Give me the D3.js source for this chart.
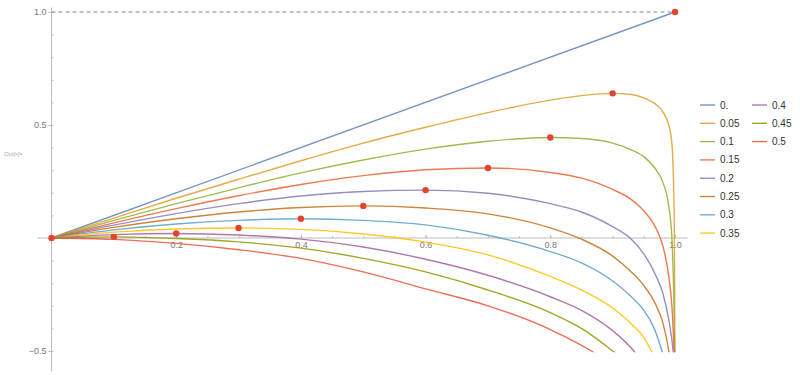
<!DOCTYPE html>
<html>
<head>
<meta charset="utf-8">
<script src="https://cdn.jsdelivr.net/npm/d3@7"></script>
<style>
  body { margin: 0; background: #fff; }
  svg { display: block; font-family: "Liberation Sans", Arial, sans-serif; }
</style>
</head>
<body>
<script>
// parameter labels (legend order)
var labels = ['0.', '0.05', '0.1', '0.15', '0.2', '0.25', '0.3', '0.35', '0.4', '0.45', '0.5'];

// curves, [x, y]
var s000 = [[0, 0], [1, 1]];
var s005 = [[0, 0], [0.1, 0.088], [0.2, 0.176], [0.3, 0.26], [0.4, 0.342], [0.5, 0.42], [0.6, 0.49], [0.7, 0.555], [0.8, 0.61], [0.85, 0.63], [0.9, 0.64], [0.93, 0.635], [0.95, 0.62], [0.97, 0.59], [0.98, 0.56], [0.99, 0.5], [0.995, 0.42], [0.998, 0.2], [0.999, 0], [0.9995, -0.25], [1, -0.6]];
var s010 = [[0, 0], [0.1, 0.078], [0.2, 0.152], [0.3, 0.222], [0.4, 0.288], [0.5, 0.345], [0.6, 0.393], [0.7, 0.428], [0.8, 0.445], [0.85, 0.44], [0.9, 0.42], [0.93, 0.39], [0.95, 0.36], [0.97, 0.3], [0.98, 0.25], [0.99, 0.14], [0.995, 0], [0.998, -0.25], [1, -0.6]];
var s015 = [[0, 0], [0.1, 0.067], [0.2, 0.13], [0.3, 0.187], [0.4, 0.237], [0.5, 0.276], [0.6, 0.302], [0.7, 0.31], [0.8, 0.29], [0.85, 0.265], [0.9, 0.215], [0.93, 0.17], [0.95, 0.12], [0.97, 0.04], [0.98, -0.03], [0.99, -0.17], [0.995, -0.3], [1, -0.6]];
var s020 = [[0, 0], [0.1, 0.057], [0.2, 0.108], [0.3, 0.152], [0.4, 0.186], [0.5, 0.206], [0.6, 0.212], [0.7, 0.198], [0.8, 0.152], [0.85, 0.115], [0.9, 0.05], [0.93, -0.005], [0.95, -0.07], [0.97, -0.17], [0.98, -0.24], [0.99, -0.36], [0.997, -0.5], [1, -0.6]];
var s025 = [[0, 0], [0.1, 0.047], [0.2, 0.085], [0.3, 0.115], [0.4, 0.135], [0.5, 0.142], [0.6, 0.133], [0.7, 0.107], [0.8, 0.045], [0.85, -0.005], [0.9, -0.08], [0.93, -0.15], [0.95, -0.21], [0.97, -0.3], [0.98, -0.37], [0.99, -0.5], [1, -0.75]];
var s030 = [[0, 0], [0.1, 0.036], [0.2, 0.062], [0.3, 0.078], [0.4, 0.085], [0.5, 0.078], [0.6, 0.058], [0.7, 0.012], [0.8, -0.06], [0.85, -0.11], [0.9, -0.19], [0.93, -0.26], [0.95, -0.32], [0.965, -0.39], [0.979, -0.5], [0.99, -0.62]];
var s035 = [[0, 0], [0.1, 0.026], [0.2, 0.04], [0.3, 0.044], [0.4, 0.038], [0.5, 0.018], [0.6, -0.018], [0.7, -0.075], [0.8, -0.17], [0.85, -0.23], [0.9, -0.31], [0.93, -0.38], [0.95, -0.44], [0.962, -0.5], [0.98, -0.62]];
var s040 = [[0, 0], [0.1, 0.015], [0.2, 0.02], [0.3, 0.013], [0.4, -0.005], [0.5, -0.04], [0.6, -0.094], [0.7, -0.165], [0.8, -0.26], [0.85, -0.32], [0.9, -0.41], [0.934, -0.5], [0.96, -0.6]];
var s045 = [[0, 0], [0.1, 0.005], [0.2, -0.002], [0.3, -0.017], [0.4, -0.045], [0.5, -0.09], [0.6, -0.15], [0.7, -0.23], [0.8, -0.33], [0.85, -0.4], [0.9, -0.5], [0.95, -0.62]];
var s050 = [[0, 0], [0.1, -0.006], [0.2, -0.024], [0.3, -0.052], [0.4, -0.09], [0.5, -0.15], [0.6, -0.225], [0.7, -0.3], [0.8, -0.405], [0.866, -0.5], [0.9, -0.56]];
var series = [s000, s005, s010, s015, s020, s025, s030, s035, s040, s045, s050];

// red markers at the top of each curve
var dotX = [0, 0.1, 0.2, 0.3, 0.4, 0.5, 0.6, 0.7, 0.8, 0.9, 1];
var dotY = [0, 0.005, 0.02, 0.044, 0.085, 0.142, 0.212, 0.31, 0.445, 0.64, 1];

// tick values
var xMajor = [0.2, 0.4, 0.6, 0.8, 1.0];
var yMajor = [-0.5, 0.5, 1.0];

// mathematica default colours
var colors = ['#5e81b5', '#e19c24', '#8fb032', '#eb6235', '#8778b3', '#c56e1a',
              '#5d9ec7', '#ffbf00', '#a5609d', '#929600', '#e95536'];

var width = 800, height = 375;

var x = d3.scaleLinear().domain([0, 1]).range([51.5, 675]);
var y = d3.scaleLinear().domain([-0.5, 1]).range([351, 12]);

var svg = d3.select('body').append('svg')
  .attr('width', width)
  .attr('height', height);

svg.append('defs').append('clipPath').attr('id', 'clip')
  .append('rect')
  .attr('x', x(0) - 2).attr('y', y(1) - 4)
  .attr('width', x(1) - x(0) + 6).attr('height', y(-0.505) - y(1) + 4);

// axis lines
svg.append('line')
  .attr('x1', x(-0.023)).attr('x2', x(1.02))
  .attr('y1', y(0)).attr('y2', y(0))
  .attr('stroke', '#bbb');
svg.append('line')
  .attr('x1', x(0)).attr('x2', x(0))
  .attr('y1', y(1.02)).attr('y2', y(-0.59))
  .attr('stroke', '#bbb');

// x ticks
svg.append('g')
  .attr('transform', 'translate(0,' + y(0) + ')')
  .call(d3.axisBottom(x).tickValues(xMajor).tickSize(-3).tickPadding(4)
    .tickFormat(d3.format('.1f')));
svg.append('g')
  .attr('transform', 'translate(0,' + y(0) + ')')
  .call(d3.axisBottom(x).tickValues(d3.range(1, 20).map(function(i) { return i * 0.05; }))
    .tickSize(-2).tickFormat(''));

// y ticks
svg.append('g')
  .attr('transform', 'translate(' + x(0) + ',0)')
  .call(d3.axisLeft(y).tickValues(yMajor).tickSize(3).tickPadding(2)
    .tickFormat(function(d) { return d < 0 ? '\u22120.5' : d3.format('.1f')(d); }));
svg.append('g')
  .attr('transform', 'translate(' + x(0) + ',0)')
  .call(d3.axisLeft(y).tickValues(d3.range(-5, 11).map(function(i) { return i / 10; }))
    .tickSize(-2).tickFormat(''));

svg.selectAll('.domain').remove();
svg.selectAll('.tick line').attr('stroke', '#bbb');
svg.selectAll('.tick text').attr('fill', '#777').style('font-size', '9px');

// dashed reference line at 1
svg.append('line')
  .attr('x1', x(0)).attr('x2', x(1))
  .attr('y1', y(1)).attr('y2', y(1))
  .attr('stroke', '#888')
  .attr('stroke-width', 1.2)
  .attr('stroke-dasharray', '4,3');

// curves
var line = d3.line()
  .x(function(d) { return x(d[0]); })
  .y(function(d) { return y(d[1]); })
  .curve(d3.curveMonotoneX);

svg.append('g').attr('clip-path', 'url(#clip)')
  .selectAll('path')
  .data(series)
  .enter().append('path')
  .attr('d', line)
  .attr('fill', 'none')
  .attr('stroke', function(d, i) { return colors[i]; })
  .attr('stroke-opacity', 0.85)
  .attr('stroke-width', 1.4);

// dots
svg.append('g').selectAll('circle')
  .data(dotX)
  .enter().append('circle')
  .attr('cx', function(d) { return x(d); })
  .attr('cy', function(d, i) { return y(dotY[i]); })
  .attr('r', 3.2)
  .attr('fill', '#e4432d');

// legend, two columns
var legend = svg.append('g').attr('class', 'legend');
var item = legend.selectAll('g')
  .data(labels)
  .enter().append('g')
  .attr('transform', function(d, i) {
    var col = i < 8 ? 0 : 1, row = i < 8 ? i : i - 8;
    return 'translate(' + (700 + col * 52) + ',' + (105 + row * 18.3) + ')';
  });
item.append('line')
  .attr('x1', 0).attr('x2', 15)
  .attr('stroke', function(d, i) { return colors[i]; })
  .attr('stroke-opacity', 0.85)
  .attr('stroke-width', 1.4);
item.append('text')
  .attr('x', 20).attr('dy', '0.35em')
  .style('font-size', '10px')
  .attr('fill', '#333')
  .text(function(d) { return d; });

// mathematica output label
svg.append('text')
  .attr('x', 4).attr('y', 156)
  .style('font-size', '6px')
  .style('font-style', 'italic')
  .attr('fill', '#aaa')
  .text('Out[\u2022]=');
</script>
</body>
</html>
